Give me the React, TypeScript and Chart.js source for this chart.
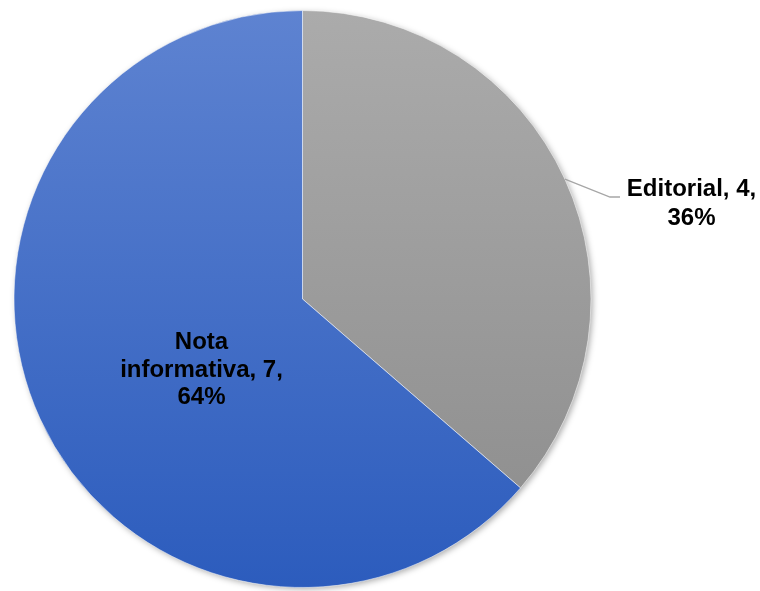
import React, { useEffect, useRef } from "react";
import { Chart, registerables } from "chart.js";

Chart.register(...registerables);

const categories = ["Editorial", "Nota informativa"];
const values = [4, 7];
const percentLabels = ["36%", "64%"];
const gradTop = ["#ababab", "#5e83d1"];
const gradBottom = ["#8b8b8b", "#2c5cbd"];

const shadowPlugin = {
  id: "pieShadow",
  beforeDatasetsDraw(chart: any) {
    const ctx = chart.ctx;
    const meta = chart.getDatasetMeta(0);
    const a = meta.data[0];
    ctx.save();
    ctx.shadowColor = "rgba(0,0,0,0.35)";
    ctx.shadowBlur = 6;
    ctx.shadowOffsetX = 2;
    ctx.shadowOffsetY = 2;
    ctx.fillStyle = "#fff";
    ctx.beginPath();
    ctx.arc(a.x, a.y, a.outerRadius - 0.5, 0, Math.PI * 2);
    ctx.fill();
    ctx.restore();
  },
};

const labelPlugin = {
  id: "pieLabels",
  afterDatasetsDraw(chart: any) {
    const ctx = chart.ctx;
    const meta = chart.getDatasetMeta(0);
    const a0 = meta.data[0];
    const cx = a0.x;
    const cy = a0.y;
    const r = a0.outerRadius;
    ctx.save();
    ctx.font = "bold 24px 'Liberation Sans', Arial, sans-serif";
    ctx.fillStyle = "#000";
    ctx.textAlign = "center";
    ctx.textBaseline = "middle";

    // Editorial: outside with leader line
    const mid0 = (a0.startAngle + a0.endAngle) / 2;
    const sx = cx + Math.cos(mid0) * r;
    const sy = cy + Math.sin(mid0) * r;
    ctx.strokeStyle = "#a6a6a6";
    ctx.lineWidth = 1.3;
    ctx.beginPath();
    ctx.moveTo(sx, sy);
    ctx.lineTo(cx + 307.5, cy - 102);
    ctx.lineTo(cx + 317.5, cy - 102);
    ctx.stroke();
    const ex = cx + 389;
    ctx.fillText(`${categories[0]}, ${values[0]},`, ex, cy - 110);
    ctx.fillText(percentLabels[0], ex, cy - 81);

    // Nota informativa: inside
    const nx = cx - 101;
    const words = categories[1].split(" ");
    ctx.fillText(words[0], nx, cy + 43);
    ctx.fillText(`${words[1]}, ${values[1]},`, nx, cy + 71);
    ctx.fillText(percentLabels[1], nx, cy + 98);
    ctx.restore();
  },
};

export default function App() {
  const ref = useRef<HTMLCanvasElement>(null);
  useEffect(() => {
    const canvas = ref.current!;
    const chart = new Chart(canvas, {
      type: "pie",
      data: {
        labels: categories,
        datasets: [
          {
            data: values,
            backgroundColor: (c: any) => {
              const ch = c.chart;
              const area = ch.chartArea;
              if (!area) return gradTop[c.dataIndex];
              const g = ch.ctx.createLinearGradient(0, area.top, 0, area.bottom);
              g.addColorStop(0, gradTop[c.dataIndex]);
              g.addColorStop(1, gradBottom[c.dataIndex]);
              return g;
            },
            borderColor: "rgba(255,255,255,0.5)",
            borderWidth: 1,
          },
        ],
      },
      options: {
        responsive: false,
        animation: false,
        layout: { padding: { left: 13, right: 168, top: 10, bottom: 3 } },
        plugins: {
          legend: { display: false },
          tooltip: { enabled: false },
        },
      },
      plugins: [shadowPlugin, labelPlugin],
    });
    return () => chart.destroy();
  }, []);
  return (
    <div style={{ position: "fixed", left: 0, top: 0, width: 760, height: 591, background: "#fff" }}>
      <canvas ref={ref} width={760} height={591} style={{ width: 760, height: 591 }} />
    </div>
  );
}
